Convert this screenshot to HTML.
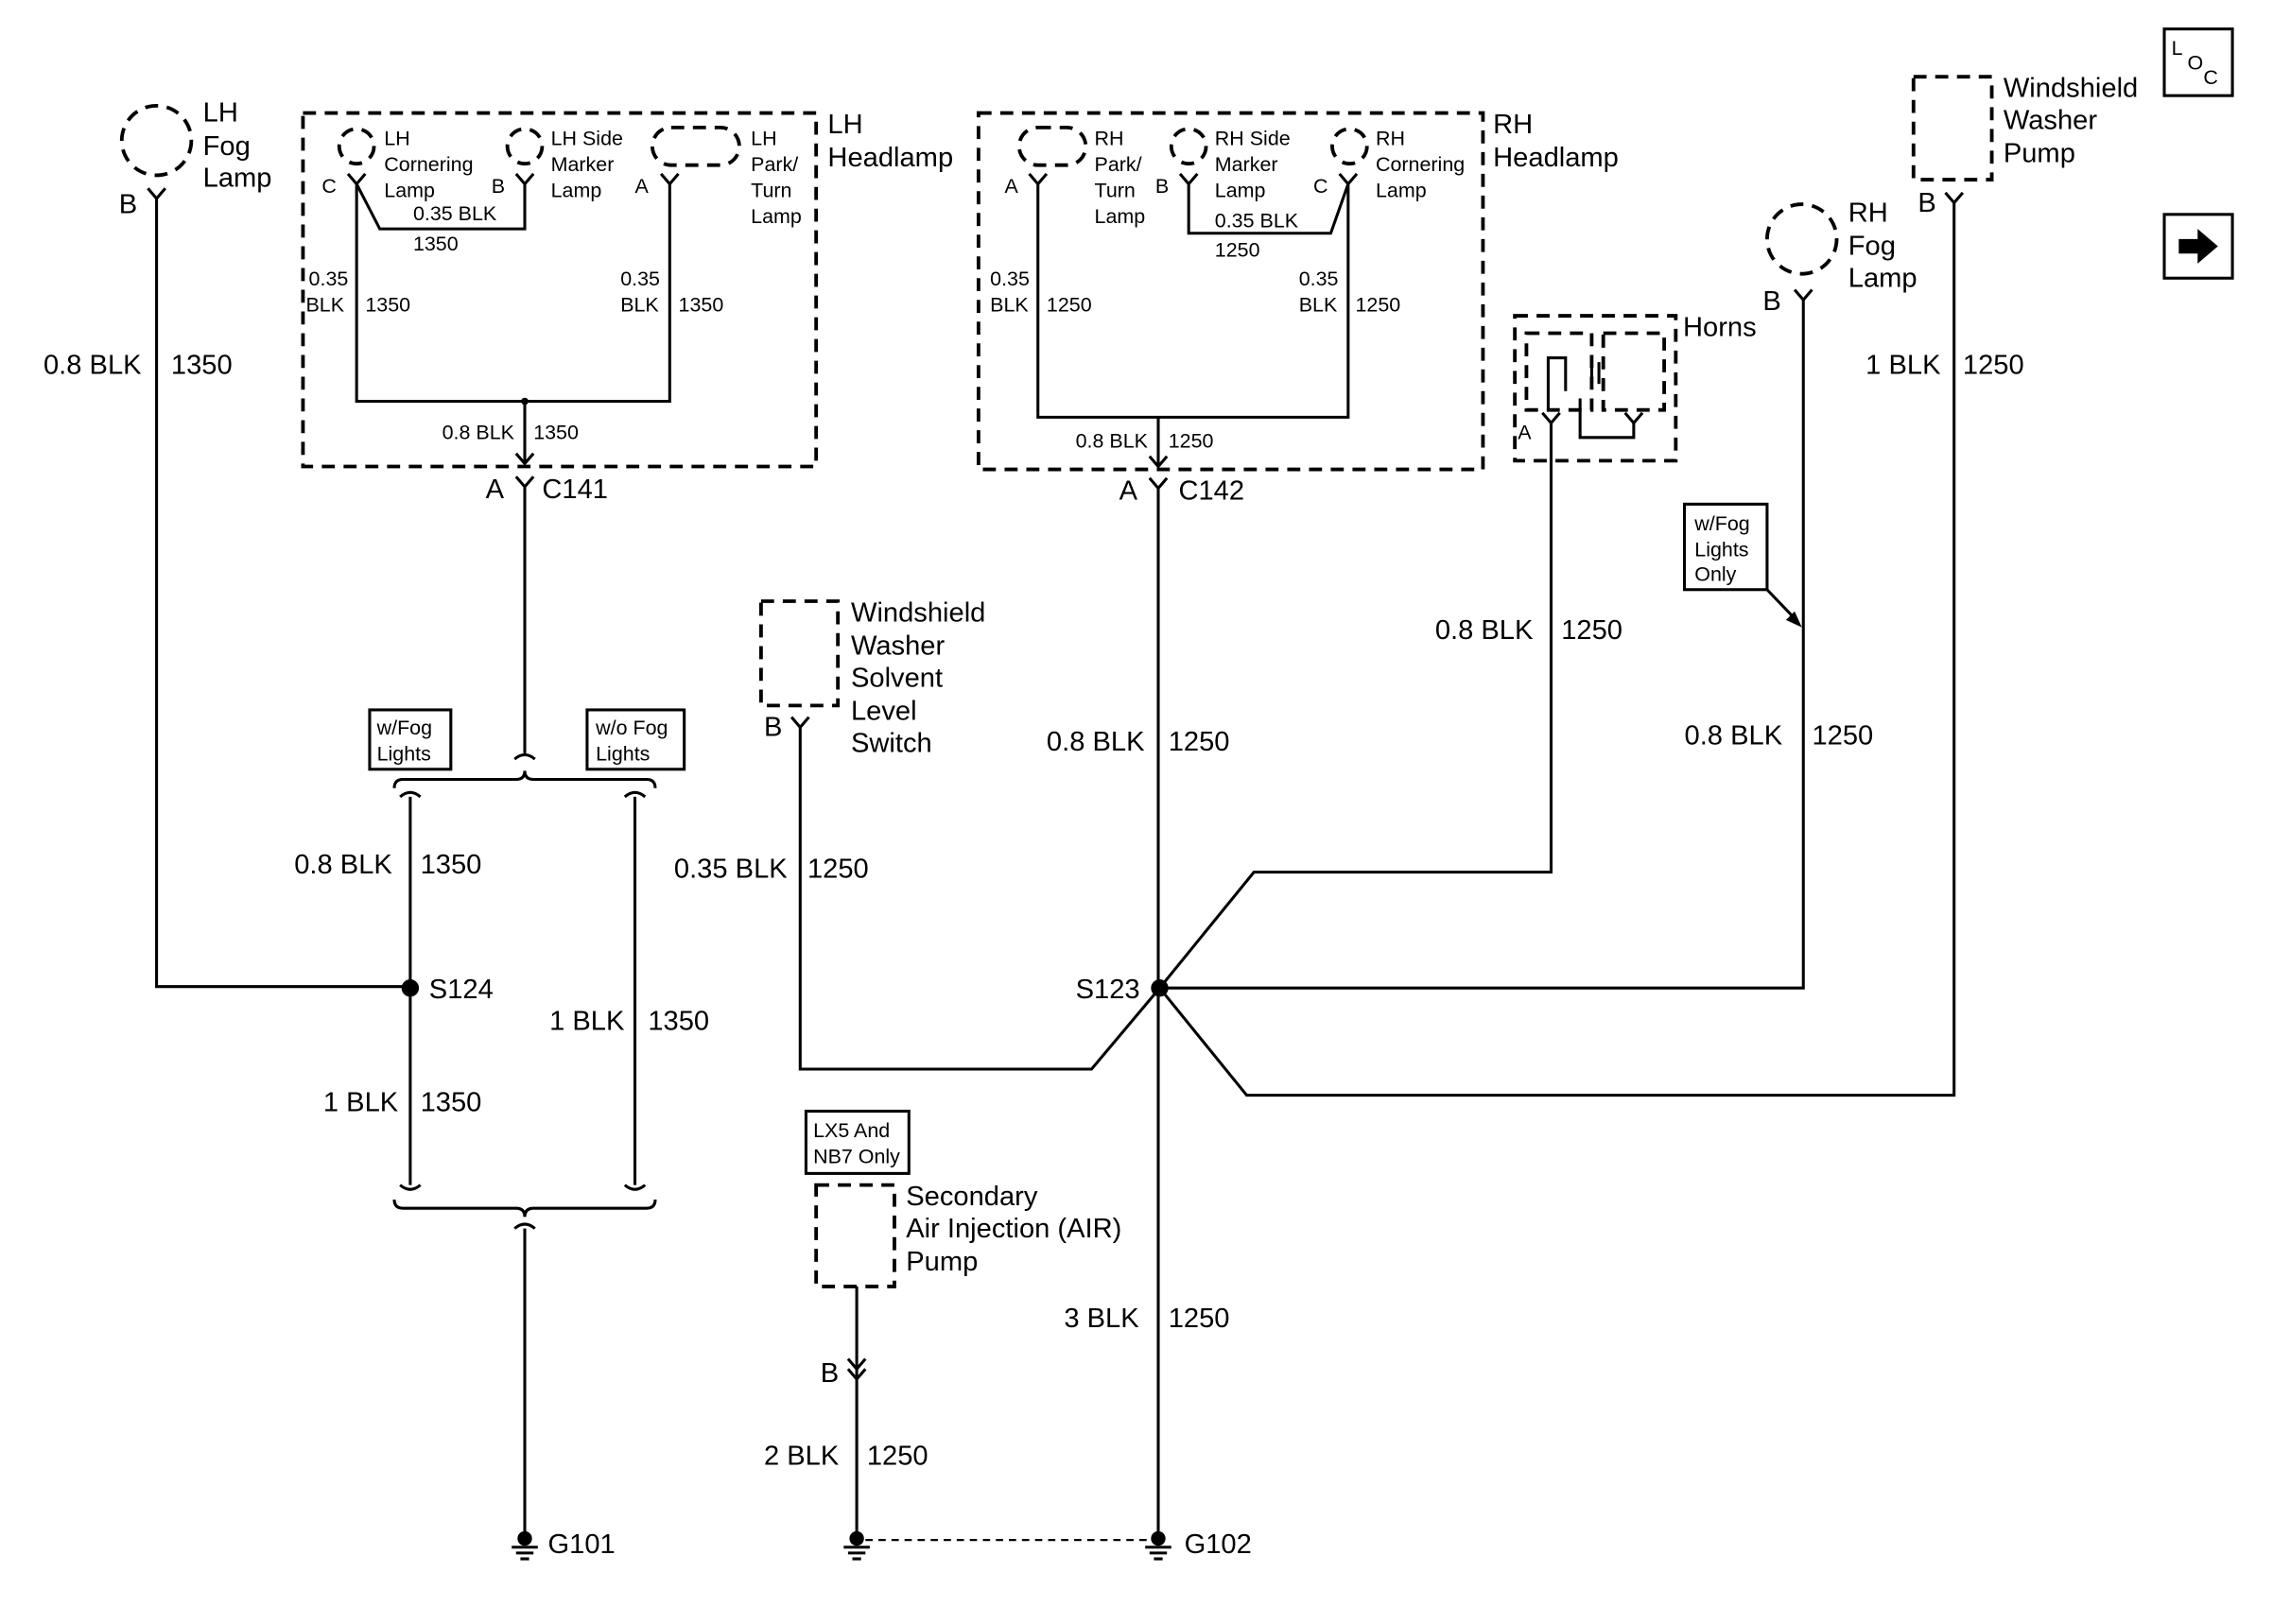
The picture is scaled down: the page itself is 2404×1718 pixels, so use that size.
<!DOCTYPE html>
<html><head><meta charset="utf-8"><style>
html,body{margin:0;padding:0;background:#fff;overflow:hidden;width:2404px;height:1718px;}
svg{display:block;}
text{font-family:"Liberation Sans",Arial,sans-serif;fill:#000;}
.b{font-size:19px;}
.s{font-size:14px;}
.w{stroke:#000;stroke-width:2;fill:none;}
.d{stroke:#000;stroke-width:2.5;fill:none;stroke-dasharray:9,6;}
</style></head><body>
<svg width="2404" height="1718" viewBox="0 0 1568 1121" preserveAspectRatio="none" xmlns="http://www.w3.org/2000/svg">
<rect width="1568" height="1121" fill="#fff"/>
<!-- LH fog -->
<circle cx="108" cy="97" r="24" class="d"/>
<text class="b" x="140" y="84">LH</text><text class="b" x="140" y="107">Fog</text><text class="b" x="140" y="129">Lamp</text>
<text class="b" x="82" y="147">B</text>
<path class="w" d="M102,130 L108,137 L114,130 M108,137 V681 H283"/>
<text class="b" x="30" y="258">0.8 BLK</text><text class="b" x="118" y="258">1350</text>
<!-- LH headlamp -->
<rect x="209" y="78" width="354" height="244" class="d"/>
<text class="b" x="571" y="92">LH</text><text class="b" x="571" y="115">Headlamp</text>
<circle cx="246" cy="101" r="12" class="d"/><circle cx="362" cy="101" r="12" class="d"/>
<rect x="450" y="88" width="60" height="26" rx="13" class="d"/>
<text class="s" x="265" y="100">LH</text><text class="s" x="265" y="118">Cornering</text><text class="s" x="265" y="136">Lamp</text>
<text class="s" x="380" y="100">LH Side</text><text class="s" x="380" y="118">Marker</text><text class="s" x="380" y="136">Lamp</text>
<text class="s" x="518" y="100">LH</text><text class="s" x="518" y="118">Park/</text><text class="s" x="518" y="136">Turn</text><text class="s" x="518" y="154">Lamp</text>
<text class="s" x="222" y="133">C</text><text class="s" x="339" y="133">B</text><text class="s" x="438" y="133">A</text>
<path class="w" d="M240,120 L246,127 L252,120 M356,120 L362,127 L368,120 M456,120 L462,127 L468,120"/>
<path class="w" d="M246,127 V277 H462 V127 M246,127 L262,158 H362 V127 M362,277 V320 M356,313 L362,320 L368,313"/>
<circle cx="362" cy="277" r="2.5"/>
<text class="s" x="285" y="152">0.35 BLK</text><text class="s" x="285" y="173">1350</text>
<text class="s" x="213" y="197">0.35</text><text class="s" x="211" y="215">BLK</text><text class="s" x="252" y="215">1350</text>
<text class="s" x="428" y="197">0.35</text><text class="s" x="428" y="215">BLK</text><text class="s" x="468" y="215">1350</text>
<text class="s" x="305" y="303">0.8 BLK</text><text class="s" x="368" y="303">1350</text>
<path class="w" d="M356,329 L362,336 L368,329 M362,336 V520"/>
<text class="b" x="335" y="344">A</text><text class="b" x="374" y="344">C141</text>
<rect x="255" y="490" width="56" height="41" class="w"/><text class="s" x="260" y="507">w/Fog</text><text class="s" x="260" y="525">Lights</text>
<rect x="405" y="490" width="67" height="41" class="w"/><text class="s" x="411" y="507">w/o Fog</text><text class="s" x="411" y="525">Lights</text>
<path class="w" d="M355,524 Q362,518 369,524 M272,544 Q272,538 278,538 H356 Q362,538 362,532 Q362,538 368,538 H446 Q452,538 452,544"/>
<path class="w" d="M276,550 Q283,544 290,550 M431,550 Q438,544 445,550 M283,550 V818 M438,550 V818 M276,818 Q283,824 290,818 M431,818 Q438,824 445,818"/>
<path class="w" d="M272,828 Q272,834 278,834 H356 Q362,834 362,840 Q362,834 368,834 H446 Q452,834 452,828 M355,848 Q362,842 369,848 M362,848 V1060"/>
<text class="b" x="203" y="603">0.8 BLK</text><text class="b" x="290" y="603">1350</text>
<circle cx="283" cy="682" r="6"/><text class="b" x="296" y="689">S124</text>
<text class="b" x="223" y="767">1 BLK</text><text class="b" x="290" y="767">1350</text>
<text class="b" x="379" y="711">1 BLK</text><text class="b" x="447" y="711">1350</text>
<circle cx="362" cy="1062" r="5"/><path class="w" d="M353,1068 H371 M356,1072 H368 M359,1076 H365"/>
<text class="b" x="378" y="1072">G101</text>
<!-- RH headlamp -->
<rect x="675" y="78" width="348" height="246" class="d"/>
<text class="b" x="1030" y="92">RH</text><text class="b" x="1030" y="115">Headlamp</text>
<rect x="703" y="88" width="46" height="26" rx="13" class="d"/><circle cx="820" cy="101" r="12" class="d"/><circle cx="931" cy="101" r="12" class="d"/>
<text class="s" x="755" y="100">RH</text><text class="s" x="755" y="118">Park/</text><text class="s" x="755" y="136">Turn</text><text class="s" x="755" y="154">Lamp</text>
<text class="s" x="838" y="100">RH Side</text><text class="s" x="838" y="118">Marker</text><text class="s" x="838" y="136">Lamp</text>
<text class="s" x="949" y="100">RH</text><text class="s" x="949" y="118">Cornering</text><text class="s" x="949" y="136">Lamp</text>
<text class="s" x="693" y="133">A</text><text class="s" x="797" y="133">B</text><text class="s" x="906" y="133">C</text>
<path class="w" d="M710,120 L716,127 L722,120 M814,120 L820,127 L826,120 M924,120 L930,127 L936,120"/>
<path class="w" d="M716,127 V288 H930 V127 M820,127 V161 H918 L930,127 M799,288 V322 M793,315 L799,322 L805,315"/>
<text class="s" x="838" y="157">0.35 BLK</text><text class="s" x="838" y="177">1250</text>
<text class="s" x="683" y="197">0.35</text><text class="s" x="683" y="215">BLK</text><text class="s" x="722" y="215">1250</text>
<text class="s" x="896" y="197">0.35</text><text class="s" x="896" y="215">BLK</text><text class="s" x="935" y="215">1250</text>
<text class="s" x="742" y="309">0.8 BLK</text><text class="s" x="806" y="309">1250</text>
<path class="w" d="M793,330 L799,337 L805,330 M799,337 V1060"/>
<text class="b" x="772" y="345">A</text><text class="b" x="813" y="345">C142</text>
<text class="b" x="722" y="518">0.8 BLK</text><text class="b" x="806" y="518">1250</text>
<circle cx="800" cy="682" r="6"/><text class="b" x="742" y="689">S123</text>
<text class="b" x="734" y="916">3 BLK</text><text class="b" x="806" y="916">1250</text>
<circle cx="799" cy="1062" r="5"/><path class="w" d="M790,1068 H808 M793,1072 H805 M796,1076 H802"/>
<text class="b" x="817" y="1072">G102</text>
<!-- S123 branches -->
<path class="w" d="M800,682 L865,602 H1070 V292 M800,682 H1244 V207 M800,682 L860,756 H1348 V140 M800,682 L753,738 H552 V502"/>
<!-- Horns -->
<rect x="1045" y="218" width="111" height="100" class="d"/>
<rect x="1053" y="230" width="45" height="53" class="d"/><rect x="1106" y="230" width="42" height="53" class="d"/>
<path class="w" d="M1064,285 L1070,292 L1076,285 M1121,285 L1127,292 L1133,285 M1068,283 V247 H1080 V270 M1098,250 V265 M1103,250 V265 M1090,275 V302 H1127 V292"/>
<text class="b" x="1161" y="232">Horns</text><text class="s" x="1047" y="303">A</text>
<text class="b" x="990" y="441">0.8 BLK</text><text class="b" x="1077" y="441">1250</text>
<!-- RH fog -->
<circle cx="1243" cy="165" r="24" class="d"/>
<text class="b" x="1275" y="153">RH</text><text class="b" x="1275" y="176">Fog</text><text class="b" x="1275" y="198">Lamp</text>
<text class="b" x="1216" y="214">B</text>
<path class="w" d="M1238,200 L1244,207 L1250,200"/>
<rect x="1162" y="348" width="57" height="59" class="w"/>
<text class="s" x="1169" y="366">w/Fog</text><text class="s" x="1169" y="384">Lights</text><text class="s" x="1169" y="401">Only</text>
<path class="w" d="M1219,407 L1240,429"/><path d="M1243,433 L1232,428 L1238,422 Z"/>
<text class="b" x="1162" y="514">0.8 BLK</text><text class="b" x="1250" y="514">1250</text>
<!-- Washer pump -->
<rect x="1320" y="53" width="54" height="71" class="d"/>
<text class="b" x="1382" y="67">Windshield</text><text class="b" x="1382" y="89">Washer</text><text class="b" x="1382" y="112">Pump</text>
<text class="b" x="1323" y="146">B</text>
<path class="w" d="M1342,133 L1348,140 L1354,133"/>
<text class="b" x="1287" y="258">1 BLK</text><text class="b" x="1354" y="258">1250</text>
<!-- LOC / arrow -->
<rect x="1493" y="20" width="47" height="46" class="w"/>
<text class="s" x="1498" y="38">L</text><text class="s" x="1509" y="48">O</text><text class="s" x="1520" y="58">C</text>
<rect x="1493" y="148" width="47" height="44" class="w" stroke-width="3"/>
<path d="M1503,165 H1516 V158 L1530,170 L1516,182 V175 H1503 Z"/>
<!-- Solvent switch -->
<rect x="525" y="415" width="53" height="72" class="d"/>
<text class="b" x="587" y="429">Windshield</text><text class="b" x="587" y="452">Washer</text><text class="b" x="587" y="474">Solvent</text><text class="b" x="587" y="497">Level</text><text class="b" x="587" y="519">Switch</text>
<text class="b" x="527" y="508">B</text><path class="w" d="M546,495 L552,502 L558,495"/>
<text class="b" x="465" y="606">0.35 BLK</text><text class="b" x="557" y="606">1250</text>
<!-- AIR pump -->
<rect x="556" y="767" width="71" height="43" class="w"/>
<text class="s" x="561" y="785">LX5 And</text><text class="s" x="561" y="803">NB7 Only</text>
<rect x="563" y="818" width="54" height="70" class="d"/>
<text class="b" x="625" y="832">Secondary</text><text class="b" x="625" y="854">Air Injection (AIR)</text><text class="b" x="625" y="877">Pump</text>
<path class="w" d="M591,888 V1060 M585,938 L591,945 L597,938 M585,945 L591,952 L597,945"/>
<text class="b" x="566" y="954">B</text>
<text class="b" x="527" y="1011">2 BLK</text><text class="b" x="598" y="1011">1250</text>
<circle cx="591" cy="1062" r="5"/><path class="w" d="M582,1068 H600 M585,1072 H597 M588,1076 H594"/>
<line x1="597" y1="1063" x2="793" y2="1063" stroke="#000" stroke-width="1.5" stroke-dasharray="5,4"/>
</svg>
</body></html>
